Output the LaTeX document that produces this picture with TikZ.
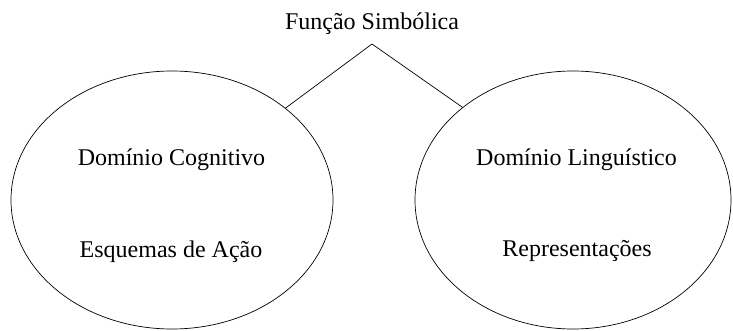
\documentclass[tikz,border=0pt]{standalone}
\usepackage{fontspec}
\setmainfont{Liberation Serif}
\usetikzlibrary{shapes.geometric}
\begin{document}
\begin{tikzpicture}[x=1pt,y=-1pt,
  domainoval/.style={draw, line width=0.7pt, ellipse, inner sep=0pt, outer sep=0pt},
  lbl/.style={anchor=base, inner sep=0pt, font=\fontsize{24}{28}\selectfont},
  conn/.style={draw, line width=0.7pt}]
\useasboundingbox (0,0) rectangle (733,331);
\node[domainoval, minimum width=322pt, minimum height=258pt] (L) at (172,200) {};
\node[domainoval, minimum width=316pt, minimum height=258pt] (R) at (573,200) {};
\node[lbl] (title) at (372,30) {Função Simbólica};
\node[lbl] (dc) at (171.5,166) {Domínio Cognitivo};
\node[lbl] (ea) at (171,257) {Esquemas de Ação};
\node[lbl] (dl) at (576.5,166) {Domínio Linguístico};
\node[lbl] (rp) at (577,256) {Representações};
\coordinate (apex) at (372,44);
\draw[conn] (L.39.5) -- (apex) -- (R.140.4);
\end{tikzpicture}
\end{document}
